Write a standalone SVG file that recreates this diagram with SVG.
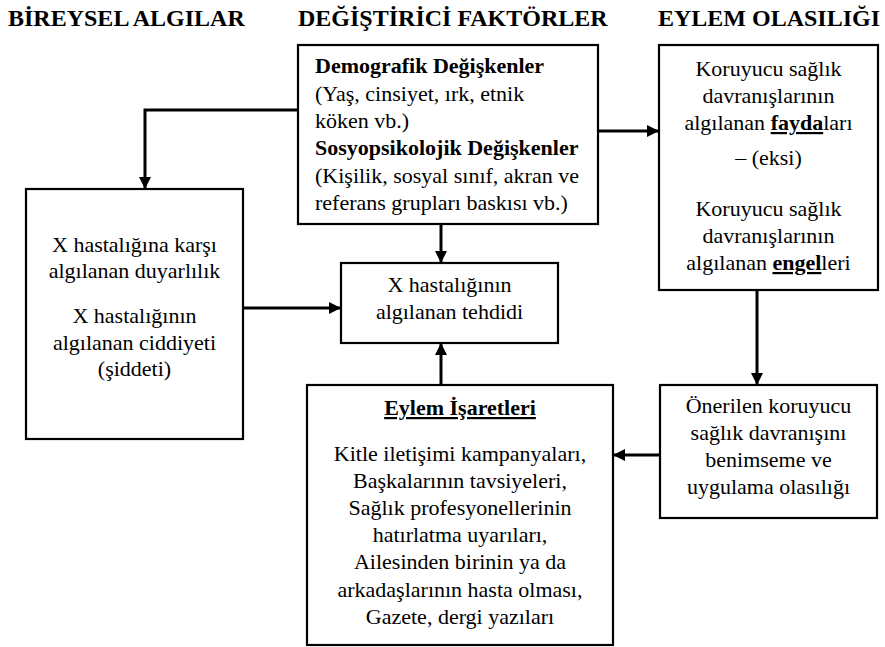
<svg xmlns="http://www.w3.org/2000/svg" width="885" height="647" viewBox="0 0 885 647">
  <defs>
    <marker id="arrow" viewBox="0 0 10 10" refX="10" refY="5" markerWidth="4" markerHeight="4.4" orient="auto" markerUnits="strokeWidth">
      <path d="M0,0 L10,5 L0,10 Z" fill="#000"/>
    </marker>
    <style>
      .box { fill: #fff; stroke: #000; stroke-width: 2.2; }
      .head { font-family: "Liberation Serif", "Times New Roman", serif; font-weight: bold; font-size: 24px; fill: #000; }
      .t { font-family: "Liberation Serif", "Times New Roman", serif; font-size: 22px; fill: #000; }
      .c { text-anchor: middle; }
      .b { font-weight: bold; }
      .u { text-decoration: underline; }
      .conn { fill: none; stroke: #000; stroke-width: 3; marker-end: url(#arrow); }
    </style>
  </defs>

  <rect width="885" height="647" fill="#fff"/>

  <!-- column headings -->
  <g id="headings">
    <text class="head" x="8" y="26">BİREYSEL ALGILAR</text>
    <text class="head" x="298" y="26">DEĞİŞTİRİCİ FAKTÖRLER</text>
    <text class="head" x="658" y="26">EYLEM OLASILIĞI</text>
  </g>

  <!-- connectors -->
  <g id="connectors">
    <path class="conn" d="M298,110 H145 V189"/>
    <path class="conn" d="M598,131 H659"/>
    <path class="conn" d="M441,224 V263"/>
    <path class="conn" d="M243,308 H341"/>
    <path class="conn" d="M441,385 V343"/>
    <path class="conn" d="M757,290 V385"/>
    <path class="conn" d="M660,455 H613"/>
  </g>

  <!-- modifying factors -->
  <g id="modifying-factors">
    <rect class="box" x="298" y="45" width="300" height="179"/>
    <text class="t b" x="315" y="73">Demografik Değişkenler</text>
    <text class="t" x="315" y="101">(Yaş, cinsiyet, ırk, etnik</text>
    <text class="t" x="315" y="128">köken vb.)</text>
    <text class="t b" x="315" y="155">Sosyopsikolojik Değişkenler</text>
    <text class="t" x="315" y="183">(Kişilik, sosyal sınıf, akran ve</text>
    <text class="t" x="315" y="210">referans grupları baskısı vb.)</text>
  </g>

  <!-- individual perceptions -->
  <g id="individual-perceptions">
    <rect class="box" x="26" y="189" width="217" height="250"/>
    <text class="t c" x="134.5" y="252">X hastalığına karşı</text>
    <text class="t c" x="134.5" y="278">algılanan duyarlılık</text>
    <text class="t c" x="134.5" y="323">X hastalığının</text>
    <text class="t c" x="134.5" y="350">algılanan ciddiyeti</text>
    <text class="t c" x="134.5" y="376">(şiddeti)</text>
  </g>

  <!-- perceived threat -->
  <g id="perceived-threat">
    <rect class="box" x="341" y="263" width="217" height="80"/>
    <text class="t c" x="449.5" y="292">X hastalığının</text>
    <text class="t c" x="449.5" y="319">algılanan tehdidi</text>
  </g>

  <!-- cues to action -->
  <g id="cues-to-action">
    <rect class="box" x="307" y="385" width="306" height="260"/>
    <text class="t c b u" x="460" y="415">Eylem İşaretleri</text>
    <text class="t c" x="460" y="461">Kitle iletişimi kampanyaları,</text>
    <text class="t c" x="460" y="488">Başkalarının tavsiyeleri,</text>
    <text class="t c" x="460" y="515">Sağlık profesyonellerinin</text>
    <text class="t c" x="460" y="542">hatırlatma uyarıları,</text>
    <text class="t c" x="460" y="569">Ailesinden birinin ya da</text>
    <text class="t c" x="460" y="597">arkadaşlarının hasta olması,</text>
    <text class="t c" x="460" y="624">Gazete, dergi yazıları</text>
  </g>

  <!-- benefits minus barriers -->
  <g id="benefits-barriers">
    <rect class="box" x="659" y="45" width="219" height="245"/>
    <text class="t c" x="768.5" y="76">Koruyucu sağlık</text>
    <text class="t c" x="768.5" y="103">davranışlarının</text>
    <text class="t c" x="768.5" y="130">algılanan <tspan class="b u">fayda</tspan>ları</text>
    <text class="t c" x="768.5" y="165">– (eksi)</text>
    <text class="t c" x="768.5" y="216">Koruyucu sağlık</text>
    <text class="t c" x="768.5" y="243">davranışlarının</text>
    <text class="t c" x="768.5" y="270">algılanan <tspan class="b u">engel</tspan>leri</text>
  </g>

  <!-- likelihood of action -->
  <g id="likelihood">
    <rect class="box" x="660" y="385" width="217" height="133"/>
    <text class="t c" x="768.5" y="413">Önerilen koruyucu</text>
    <text class="t c" x="768.5" y="440">sağlık davranışını</text>
    <text class="t c" x="768.5" y="467">benimseme ve</text>
    <text class="t c" x="768.5" y="494">uygulama olasılığı</text>
  </g>
</svg>
